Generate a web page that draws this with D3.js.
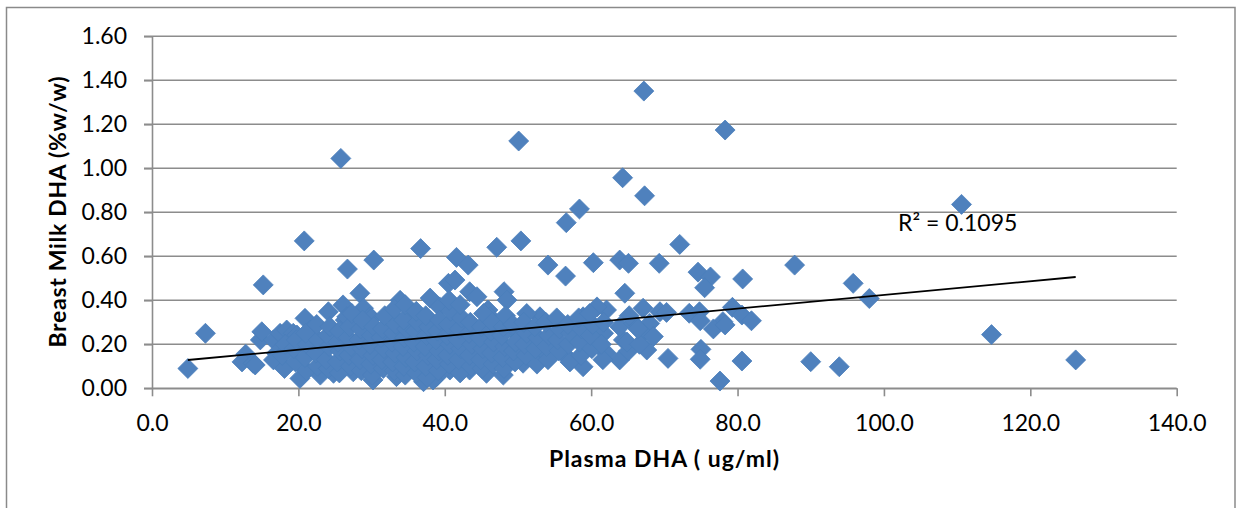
<!DOCTYPE html>
<html>
<head>
<meta charset="utf-8">
<script src="https://cdn.jsdelivr.net/npm/d3@7"></script>
<style>
  html, body { margin: 0; padding: 0; background: #ffffff; }
  svg { display: block; }
  text { font-family: Lato, "Open Sans", "Liberation Sans", sans-serif; fill: #000; }
</style>
</head>
<body>
<svg id="chart" width="1241" height="508"></svg>
<script>
// ---------------- data ----------------
const xTicks = [0, 20, 40, 60, 80, 100, 120, 140];
const yTicks = [0, 0.2, 0.4, 0.6, 0.8, 1.0, 1.2, 1.4, 1.6];

// [Plasma DHA (ug/ml), Breast Milk DHA (%w/w)]
const points = [
  [4.9,0.09],[7.3,0.25],[15.2,0.47],[20.8,0.67],[25.8,1.045],[26.7,0.542],[30.3,0.583],
  [28.4,0.432],[24.1,0.348],[50.1,1.124],[64.3,0.957],[67.3,0.875],[67.2,1.351],[78.3,1.174],
  [110.6,0.836],[58.4,0.815],[56.6,0.753],[50.4,0.670],[47.1,0.641],[36.7,0.635],[41.6,0.595],
  [43.2,0.560],[54.1,0.560],[56.5,0.510],[60.3,0.571],[63.9,0.583],[65.1,0.568],[69.3,0.568],
  [72.1,0.654],[87.8,0.560],[74.6,0.528],[76.3,0.506],[80.7,0.497],[75.5,0.457],[64.6,0.432],
  [95.8,0.477],[98.0,0.408],[114.7,0.244],[126.2,0.129],[73.4,0.341],[74.8,0.348],[74.9,0.307],
  [79.3,0.368],[80.6,0.333],[81.9,0.307],[78.0,0.303],[76.7,0.270],[78.3,0.288],[75.0,0.177],
  [74.9,0.132],[80.6,0.124],[77.6,0.033],[90.0,0.121],[93.9,0.098],[40.5,0.477],[41.4,0.492],
  [43.4,0.439],[44.4,0.416],[48.1,0.439],[48.5,0.401],[45.9,0.356],[12.8,0.155],[12.3,0.12],
  [13.8,0.114],[14.8,0.22],[15.0,0.257],[16.6,0.22],[17.5,0.25],[18.4,0.265],[19.3,0.25],
  [20.9,0.318],[21.6,0.265],[26.1,0.379],[28.9,0.364],[29.8,0.325],[26.4,0.31],[17.5,0.114],
  [17.0,0.159],[20.2,0.045],[23.0,0.06],[24.8,0.068],[27.5,0.075],[30.2,0.038],[33.4,0.053],
  [37.1,0.03],[33.9,0.40],[38.0,0.41],[35.7,0.34],[33.0,0.325],[30.0,0.318],[26.6,0.325],
  [19.8,0.242],[16.6,0.129],[38.9,0.053],[38.4,0.038],[40.7,0.083],[43.4,0.083],[45.7,0.068],
  [48.0,0.06],[50.7,0.114],[53.5,0.144],[56.2,0.159],[58.9,0.098],[63.9,0.129],[64.4,0.22],
  [63.9,0.28],[62.1,0.356],[60.8,0.37],[58.9,0.325],[53.0,0.325],[51.2,0.34],[46.2,0.325],
  [39.3,0.37],[49.8,0.25],[51.6,0.174],[67.1,0.364],[69.4,0.348],[70.3,0.345],[65.8,0.295],
  [68.0,0.295],[67.1,0.25],[68.5,0.235],[61.7,0.25],[62.1,0.159],[67.6,0.174],[70.5,0.136],
  [14.1,0.106],
  [18.1,0.09],[17.8,0.15],[18.2,0.20],[19.6,0.12],[19.4,0.18],[19.7,0.22],
  [21.1,0.08],[20.9,0.14],[21.2,0.20],[21.0,0.25],
  [22.6,0.10],[22.4,0.16],[22.7,0.22],[22.5,0.29],
  [24.1,0.09],[23.8,0.13],[24.2,0.19],[24.0,0.24],[24.3,0.28],
  [25.6,0.07],[25.3,0.12],[25.7,0.17],[25.4,0.21],[25.6,0.26],
  [27.1,0.10],[26.9,0.15],[27.2,0.19],[26.8,0.23],[27.0,0.28],[27.3,0.34],
  [28.6,0.08],[28.4,0.13],[28.7,0.18],[28.3,0.22],[28.5,0.27],[28.8,0.31],
  [30.1,0.06],[29.9,0.11],[30.2,0.15],[29.8,0.20],[30.0,0.24],[30.3,0.28],
  [31.6,0.09],[31.4,0.13],[31.7,0.18],[31.3,0.23],[31.5,0.27],[31.8,0.33],
  [33.1,0.08],[32.9,0.12],[33.2,0.16],[32.8,0.21],[33.0,0.25],[33.3,0.29],[33.1,0.36],
  [34.6,0.06],[34.4,0.10],[34.7,0.14],[34.3,0.19],[34.5,0.23],[34.8,0.27],[34.4,0.31],[34.6,0.38],
  [36.1,0.07],[35.9,0.12],[36.2,0.17],[35.8,0.21],[36.0,0.26],[36.3,0.30],[36.1,0.35],
  [37.6,0.05],[37.4,0.10],[37.7,0.15],[37.3,0.19],[37.5,0.24],[37.8,0.28],[37.4,0.33],
  [39.1,0.08],[38.9,0.13],[39.2,0.17],[38.8,0.22],[39.0,0.26],[39.3,0.31],
  [40.6,0.11],[40.4,0.15],[40.7,0.20],[40.3,0.24],[40.5,0.29],[40.8,0.35],[40.6,0.40],
  [42.1,0.07],[41.9,0.13],[42.2,0.18],[41.8,0.22],[42.0,0.27],[42.3,0.32],[42.1,0.38],
  [43.6,0.10],[43.4,0.15],[43.7,0.20],[43.3,0.25],[43.5,0.30],
  [45.1,0.09],[44.9,0.13],[45.2,0.18],[44.8,0.23],[45.0,0.28],[45.3,0.34],
  [46.6,0.11],[46.4,0.16],[46.7,0.21],[46.3,0.26],[46.5,0.30],
  [48.1,0.09],[47.9,0.14],[48.2,0.19],[47.8,0.24],[48.0,0.28],[48.3,0.33],
  [49.6,0.12],[49.4,0.17],[49.7,0.21],[49.3,0.29],
  [51.1,0.15],[50.9,0.20],[51.2,0.25],[50.8,0.30],
  [52.6,0.11],[52.4,0.18],[52.7,0.23],[52.3,0.28],
  [54.1,0.13],[53.9,0.19],[54.2,0.24],[53.8,0.30],
  [55.6,0.17],[55.4,0.22],[55.7,0.27],[55.3,0.32],
  [57.1,0.12],[56.9,0.20],[57.2,0.25],[56.8,0.29],
  [58.6,0.15],[58.4,0.21],[58.7,0.27],[58.3,0.32],
  [60.1,0.18],[59.9,0.24],[60.2,0.29],[59.8,0.34],
  [61.6,0.13],[61.4,0.20],[61.7,0.30],
  [65.1,0.17],[64.9,0.21],[65.2,0.33],
  [66.6,0.20],[66.4,0.27]
];

// linear trendline: y = slope * x + intercept
const trendCoef = [0.00311, 0.1134];
const rSquaredLabel = ["R² = 0.1095"];

// ---------------- drawing ----------------
const svg = d3.select("#chart");

// outer chart border
svg.append("rect")
  .attr("x", 6.5).attr("y", 7.5).attr("width", 1228.5).attr("height", 520)
  .attr("fill", "none").attr("stroke", "#8a8a8a").attr("stroke-width", 1.5);

const x = d3.scaleLinear().domain([0, 140]).range([152, 1176.7]);
const y = d3.scaleLinear().domain([0, 1.6]).range([388.3, 36.3]);

const gridColor = "#8c8c8c";

// horizontal gridlines (incl. baseline)
svg.append("g").selectAll("line").data(yTicks).join("line")
  .attr("x1", 144).attr("x2", x(140))
  .attr("y1", d => y(d)).attr("y2", d => y(d))
  .attr("stroke", gridColor).attr("stroke-width", 1.6);

// y axis
const yAxis = svg.append("g").attr("transform", `translate(${x(0)},0)`)
  .call(d3.axisLeft(y).tickValues(yTicks).tickFormat(d3.format(".2f"))
    .tickSizeInner(8).tickSizeOuter(0).tickPadding(17));
yAxis.select(".domain").attr("stroke", gridColor).attr("stroke-width", 1.6);
yAxis.selectAll(".tick line").attr("stroke", gridColor).attr("stroke-width", 1.6);
yAxis.selectAll(".tick text").style("font-size", "23px").style("font-family", "Lato, sans-serif").attr("fill", "#000");

// x axis
const xAxis = svg.append("g").attr("transform", `translate(0,${y(0)})`)
  .call(d3.axisBottom(x).tickValues(xTicks).tickFormat(d3.format(".1f"))
    .tickSizeInner(8).tickSizeOuter(0).tickPadding(18));
xAxis.select(".domain").attr("stroke", gridColor).attr("stroke-width", 1.6);
xAxis.selectAll(".tick line").attr("stroke", gridColor).attr("stroke-width", 1.6);
xAxis.selectAll(".tick text").style("font-size", "23px").style("font-family", "Lato, sans-serif").attr("fill", "#000");

// points (diamonds)
const diamond = d3.symbol().type(d3.symbolSquare).size(200);
svg.append("g").selectAll("path").data(points).join("path")
  .attr("d", diamond)
  .attr("transform", d => `translate(${x(d[0])},${y(d[1])}) rotate(45)`)
  .attr("fill", "#4F81BD").attr("stroke", "#4A7EBB").attr("stroke-width", 0.75);

// trendline across data extent
const xExt = d3.extent(points, d => d[0]);
const trendPts = xExt.map(v => [v, trendCoef[0] * v + trendCoef[1]]);
svg.append("path")
  .datum(trendPts)
  .attr("d", d3.line().x(d => x(d[0])).y(d => y(d[1])))
  .attr("fill", "none").attr("stroke", "#000").attr("stroke-width", 1.8);

// R² label
svg.append("text").data(rSquaredLabel)
  .attr("x", 898).attr("y", 231)
  .style("font-size", "23px")
  .text(d => d);

// axis titles
svg.append("text")
  .attr("x", 664).attr("y", 467)
  .attr("text-anchor", "middle")
  .attr("textLength", 230).attr("lengthAdjust", "spacing")
  .style("font-size", "23px").style("font-weight", "bold")
  .text("Plasma DHA ( ug/ml)");

svg.append("text")
  .attr("transform", "translate(66,212) rotate(-90)")
  .attr("text-anchor", "middle")
  .attr("textLength", 271).attr("lengthAdjust", "spacing")
  .style("font-size", "23px").style("font-weight", "bold")
  .text("Breast Milk DHA (%w/w)");
</script>
</body>
</html>
